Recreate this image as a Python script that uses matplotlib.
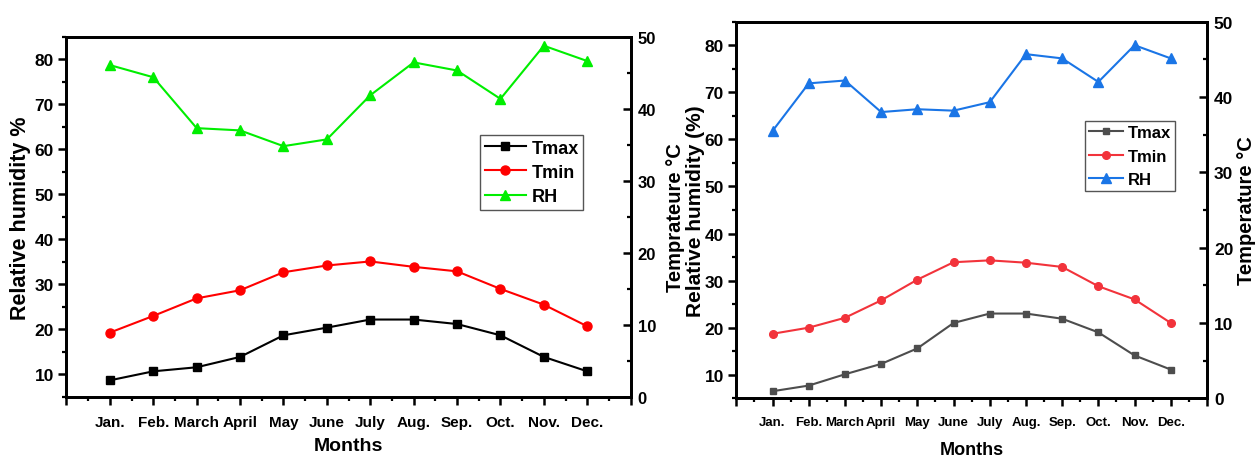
import matplotlib
matplotlib.use("Agg")
import matplotlib.pyplot as plt
from matplotlib.ticker import MultipleLocator, FixedLocator, FixedFormatter

plt.rcParams["font.family"] = ["Liberation Sans", "DejaVu Sans"]
plt.rcParams["font.weight"] = "bold"

months = ["Jan.", "Feb.", "March", "April", "May", "June", "July",
          "Aug.", "Sep.", "Oct.", "Nov.", "Dec."]
xpos = list(range(1, 13))

# left panel
tmax_a = [8.7, 10.7, 11.6, 13.9, 18.7, 20.4, 22.2, 22.2, 21.2, 18.7, 13.9, 10.7]
tmin_a = [19.3, 23.0, 26.9, 28.7, 32.7, 34.2, 35.1, 33.9, 32.9, 29.0, 25.5, 20.7]
rh_a = [78.7, 76.0, 64.7, 64.2, 60.7, 62.2, 72.0, 79.3, 77.5, 71.2, 83.0, 79.6]

# right panel
tmax_b = [6.5, 7.7, 10.1, 12.3, 15.6, 21.0, 23.0, 23.0, 21.9, 19.0, 14.1, 11.1]
tmin_b = [18.7, 20.0, 22.1, 25.8, 30.2, 33.9, 34.3, 33.8, 32.9, 28.8, 26.0, 21.0]
rh_b = [61.8, 71.9, 72.5, 65.8, 66.4, 66.1, 67.9, 78.1, 77.2, 72.2, 80.0, 77.2]

fig = plt.figure(figsize=(12.57, 4.6), dpi=100)


def style_panel(ax, ax2, fs_left, fs_right, fs_month):
    ax.set_xlim(0, 13)
    ax.set_ylim(5, 85)
    ax2.set_ylim(0, 50)
    ax.xaxis.set_major_locator(FixedLocator(range(0, 14)))
    ax.xaxis.set_major_formatter(FixedFormatter([""] + months + [""]))
    ax.xaxis.set_minor_locator(MultipleLocator(0.5))
    ax.yaxis.set_major_locator(MultipleLocator(10))
    ax.yaxis.set_minor_locator(MultipleLocator(5))
    ax2.yaxis.set_major_locator(MultipleLocator(10))
    ax2.yaxis.set_minor_locator(MultipleLocator(5))
    for a in (ax, ax2):
        for s in a.spines.values():
            s.set_linewidth(2.0)
    ax.tick_params(axis="x", which="major", direction="out", length=6, width=1.8,
                   labelsize=fs_month, pad=7)
    ax.tick_params(axis="x", which="minor", direction="out", length=3, width=1.6)
    ax.tick_params(axis="y", which="major", direction="out", length=6, width=1.8,
                   labelsize=fs_left, pad=3)
    ax.tick_params(axis="y", which="minor", direction="out", length=3, width=1.6)
    ax2.tick_params(axis="y", which="major", direction="in", length=6, width=1.8,
                    labelsize=fs_right, pad=5)
    ax2.tick_params(axis="y", which="minor", direction="in", length=3, width=1.6)
    for lab in ax.get_xticklabels() + ax.get_yticklabels() + ax2.get_yticklabels():
        lab.set_fontweight("bold")


def add_legend(ax, anchor, fs, spacing, hlen):
    leg = ax.legend(loc="upper left", bbox_to_anchor=anchor, fontsize=fs,
                    handlelength=hlen, labelspacing=spacing, borderpad=0.25,
                    handletextpad=0.3, borderaxespad=0, fancybox=False,
                    edgecolor="#555555", framealpha=1)
    leg.get_frame().set_linewidth(1.0)
    for t in leg.get_texts():
        t.set_fontweight("bold")


# ---- left panel ----
ax1 = fig.add_axes([0.0529, 0.1348, 0.4488, 0.7832])
ax1r = ax1.twinx()
ax1.plot(xpos, tmax_a, color="black", lw=1.5, marker="s", ms=5.5, label="Tmax")
ax1.plot(xpos, tmin_a, color="#ff0000", lw=1.5, marker="o", ms=6.5, label="Tmin")
ax1.plot(xpos, rh_a, color="#00ee00", lw=1.5, marker="^", ms=7.5, label="RH")
style_panel(ax1, ax1r, 12.5, 12, 11)
ax1.set_xlabel("Months", fontsize=14, fontweight="bold")
ax1.xaxis.set_label_coords(0.5, -0.112)
ax1.set_ylabel("Relative humidity %", fontsize=15.5, fontweight="bold")
ax1.yaxis.set_label_coords(-0.063, 0.5)
ax1r.set_ylabel("Temprateure °C", fontsize=14.5, fontweight="bold")
ax1r.yaxis.set_label_coords(1.063, 0.5)
add_legend(ax1, (0.733, 0.727), 13, 0.4, 2.3)

# ---- right panel ----
ax2 = fig.add_axes([0.5858, 0.132, 0.3744, 0.8187])
ax2r = ax2.twinx()
ax2.plot(xpos, tmax_b, color="#4d4d4d", lw=1.5, marker="s", ms=5, label="Tmax")
ax2.plot(xpos, tmin_b, color="#f2333b", lw=1.5, marker="o", ms=5.5, label="Tmin")
ax2.plot(xpos, rh_b, color="#1a75e6", lw=1.5, marker="^", ms=6.5, label="RH")
style_panel(ax2, ax2r, 12.5, 12.5, 9.5)
ax2.set_xlabel("Months", fontsize=13, fontweight="bold")
ax2.xaxis.set_label_coords(0.5, -0.113)
ax2.set_ylabel("Relative humidity (%)", fontsize=15, fontweight="bold")
ax2.yaxis.set_label_coords(-0.067, 0.5)
ax2r.set_ylabel("Temperature °C", fontsize=14.5, fontweight="bold")
ax2r.yaxis.set_label_coords(1.063, 0.5)
add_legend(ax2, (0.741, 0.736), 12, 0.5, 2.0)

fig.savefig("out.png", dpi=100)
